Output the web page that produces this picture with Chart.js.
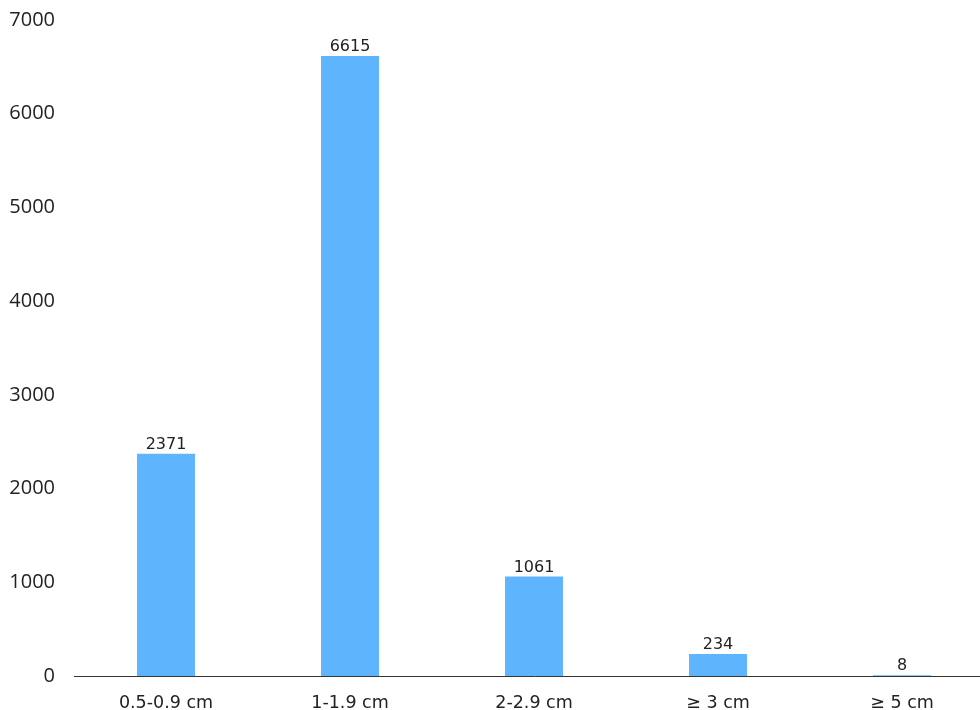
<!DOCTYPE html>
<html>
<head>
<meta charset="utf-8">
<style>
  html, body { margin: 0; padding: 0; background: #fff; }
  /* the plot runs a little past the right edge, as in the original */
  #wrap { width: 980px; height: 710px; overflow: hidden; }
</style>
<script src="https://cdn.jsdelivr.net/npm/chart.js@4"></script>
</head>
<body>
<div id="wrap"><canvas id="bar-chart" width="994" height="710"></canvas></div>
<script>
// sizes of lesions and how many in each group
const categories = ['0.5-0.9 cm', '1-1.9 cm', '2-2.9 cm', '\u2265 3 cm', '\u2265 5 cm'];
const counts = [2371, 6615, 1061, 234, 8];
const yTicks = [0, 1000, 2000, 3000, 4000, 5000, 6000, 7000];

const BAR_COLOR = '#5fb4fe';
const LABEL_FONT = '"DejaVu Sans", sans-serif';

// value labels above each bar
const valueLabels = {
    id: 'valueLabels',
    afterDatasetsDraw(chart) {
        const ctx = chart.ctx;
        const meta = chart.getDatasetMeta(0);
        ctx.save();
        ctx.fillStyle = '#222';
        ctx.font = '16px ' + LABEL_FONT;
        ctx.textAlign = 'center';
        ctx.textBaseline = 'bottom';
        meta.data.forEach((bar, i) => {
            ctx.fillText(String(counts[i]), bar.x, bar.y - 1);
        });
        ctx.restore();
    }
};

new Chart(document.getElementById('bar-chart'), {
    type: 'bar',
    data: {
        labels: categories,
        datasets: [{
            data: counts,
            backgroundColor: BAR_COLOR,
            barPercentage: 0.315,
            categoryPercentage: 1
        }]
    },
    options: {
        responsive: false,
        animation: false,
        layout: { padding: { top: 20, right: 0, left: 0, bottom: 0 } },
        plugins: {
            legend: { display: false },
            tooltip: { enabled: false }
        },
        scales: {
            x: {
                grid: { display: false },
                border: { display: true, color: '#333', width: 1 },
                ticks: {
                    color: '#222',
                    font: { family: LABEL_FONT, size: 17.5 },
                    padding: 9,
                    maxRotation: 0
                },
                afterFit: s => { s.height = 34; s.paddingLeft = 0; s.paddingRight = 0; }
            },
            y: {
                min: 0,
                max: 7000,
                grid: { display: false },
                border: { display: false },
                afterBuildTicks: s => { s.ticks = yTicks.map(v => ({ value: v })); },
                ticks: {
                    color: '#222',
                    font: { family: '"Open Sans", sans-serif', size: 20 },
                    padding: 11,
                    callback: v => String(v)
                },
                afterFit: s => { s.width = 74; s.paddingTop = 0; s.paddingBottom = 0; }
            }
        }
    },
    plugins: [valueLabels]
});
</script>
</body>
</html>
